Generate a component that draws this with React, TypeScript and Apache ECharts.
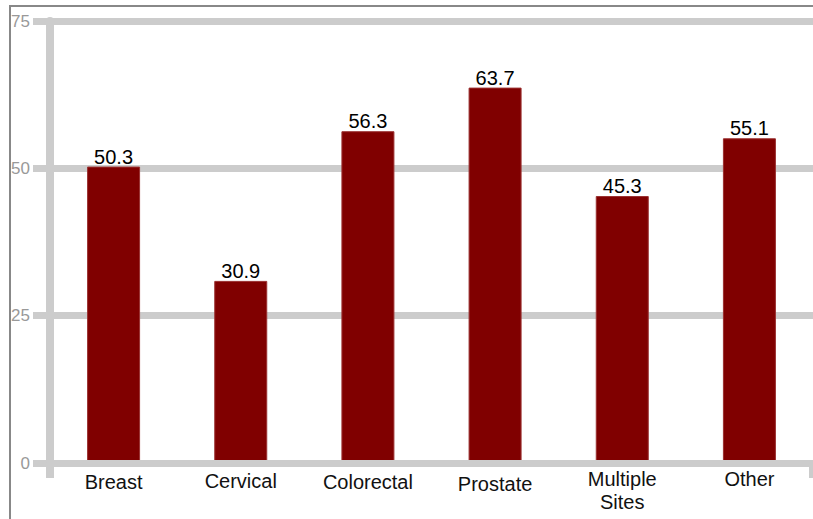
import React, { useEffect, useRef } from "react";
import * as echarts from "echarts";

const categories = ["Breast", "Cervical", "Colorectal", "Prostate", "Multiple\nSites", "Other"];
const values = [50.3, 30.9, 56.3, 63.7, 45.3, 55.1];
const labelPadding = [3, 2, 3, 5, 0, 0];

const GRID = "#cccccc";

export default function App() {
  const ref = useRef<HTMLDivElement>(null);
  useEffect(() => {
    const chart = echarts.init(ref.current!, undefined, { renderer: "svg" });
    chart.setOption({
      animation: false,
      backgroundColor: "#ffffff",
      textStyle: { fontFamily: "Liberation Sans, Arial, sans-serif" },
      grid: { left: 50, right: 0, top: 21, bottom: 56, containLabel: false },
      graphic: [
        {
          type: "rect",
          shape: { x: 10, y: 6, width: 900, height: 600 },
          style: { fill: "none", stroke: "#888888", lineWidth: 2 },
          silent: true,
          z: -1,
        },
      ],
      xAxis: {
        type: "category",
        data: categories.map((c, i) => ({
          value: c,
          textStyle: { padding: [labelPadding[i], 0, 0, 0] },
        })),
        z: 3,
        axisLine: { show: true, lineStyle: { color: GRID, width: 7 } },
        axisTick: {
          show: true,
          interval: (index: number) => index === 0,
          length: 15,
          lineStyle: { color: GRID, width: 8 },
        },
        axisLabel: {
          color: "#111111",
          fontSize: 20,
          margin: 4,
          lineHeight: 23,
          interval: 0,
          fontFamily: "Liberation Sans, Arial, sans-serif",
        },
        splitLine: { show: false },
      },
      yAxis: {
        type: "value",
        min: 0,
        max: 75,
        interval: 25,
        axisLine: { show: true, lineStyle: { color: GRID, width: 8 } },
        axisTick: { show: true, length: 17, lineStyle: { color: GRID, width: 7 } },
        axisLabel: {
          color: "#999999",
          fontSize: 17,
          margin: 20,
          fontFamily: "Liberation Sans, Arial, sans-serif",
        },
        splitLine: { show: true, lineStyle: { color: GRID, width: 7 } },
      },
      series: [
        {
          type: "bar",
          data: values,
          barWidth: 53,
          itemStyle: { color: "#800000", borderColor: "#9a3030", borderWidth: 1 },
          label: {
            show: true,
            position: "top",
            distance: 0,
            color: "#000000",
            fontSize: 20,
            fontFamily: "Liberation Sans, Arial, sans-serif",
          },
        },
      ],
    });
    return () => chart.dispose();
  }, []);
  return (
    <div
      ref={ref}
      style={{ position: "fixed", left: 0, top: 0, width: 813, height: 519 }}
    />
  );
}
